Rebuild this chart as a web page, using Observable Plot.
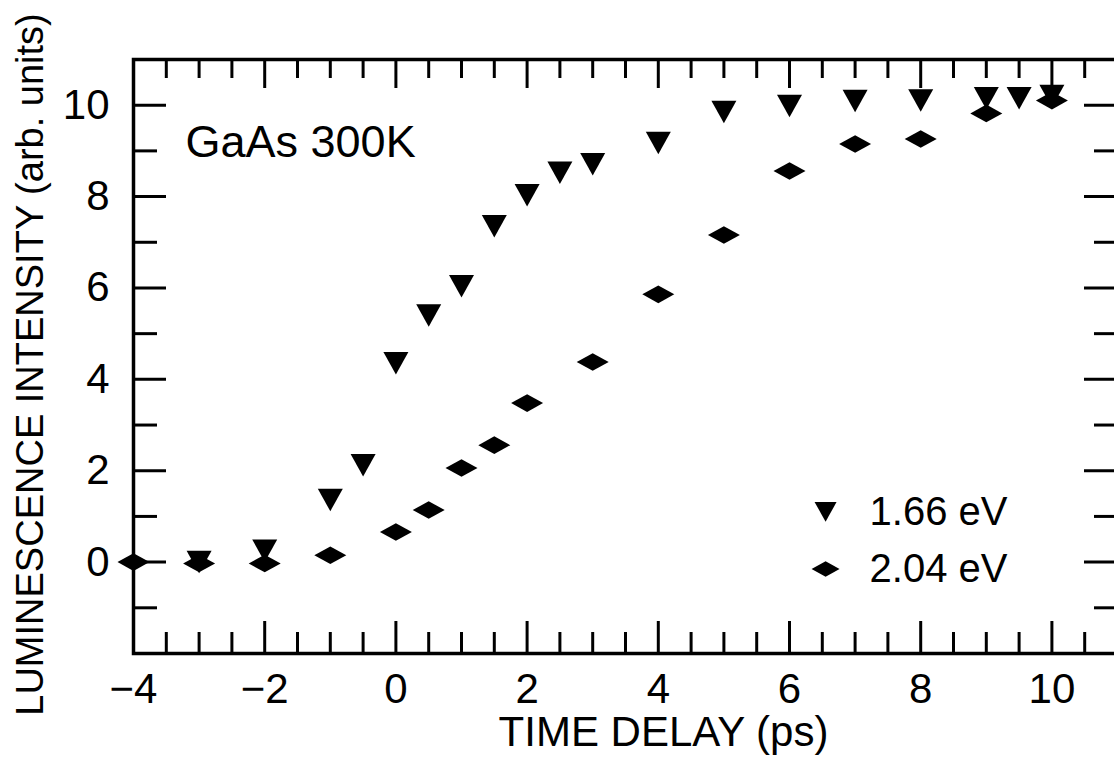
<!DOCTYPE html>
<html>
<head>
<meta charset="utf-8">
<script src="https://cdn.jsdelivr.net/npm/d3@7"></script>
<script src="https://cdn.jsdelivr.net/npm/@observablehq/plot@0.6"></script>
<style>
  html, body { margin: 0; padding: 0; background: #fff; }
  svg { display: block; }
</style>
</head>
<body>
<div id="chart"></div>
<script>
// ---- Data ----
const delay166 = [-3, -2, -1, -0.5, 0, 0.5, 1, 1.5, 2, 2.5, 3, 4, 5, 6, 7, 8, 9, 9.5, 10];
const lum166   = [0.0, 0.25, 1.36, 2.12, 4.35, 5.4, 6.04, 7.35, 8.03, 8.52, 8.71, 9.17, 9.85, 9.98, 10.09, 10.1, 10.15, 10.15, 10.2];

const delay204 = [-4, -3, -2, -1, 0, 0.5, 1, 1.5, 2, 3, 4, 5, 6, 7, 8, 9, 10];
const lum204   = [0.0, -0.03, -0.03, 0.15, 0.66, 1.14, 2.06, 2.56, 3.48, 4.38, 5.86, 7.16, 8.56, 9.15, 9.26, 9.82, 10.1];

const seriesNames = ["1.66 eV", "2.04 eV"];
const xTickLabels = [-4, -2, 0, 2, 4, 6, 8, 10];
const xMinorTicks = [-3.5, -3, -2.5, -1.5, -1, -0.5, 0.5, 1, 1.5, 2.5, 3, 3.5, 4.5, 5, 5.5, 6.5, 7, 7.5, 8.5, 9, 9.5, 10.5];
const xMajorTicks = [-2, 0, 2, 4, 6, 8, 10];
const yTickLabels = [0, 2, 4, 6, 8, 10];
const yMinorTicks = [-1, 1, 3, 5, 7, 9];
const yMajorTicks = [0, 2, 4, 6, 8, 10];

const xTitle = "TIME DELAY (ps)";
const yTitle = "LUMINESCENCE INTENSITY (arb. units)";
const annotation = "GaAs 300K";

// ---- Table for the library ----
const data166 = delay166.map((t, i) => ({t, v: lum166[i]}));
const data204 = delay204.map((t, i) => ({t, v: lum204[i]}));

// ---- Layout ----
const W = 1114, H = 761;
const mT = 59, mB = 108, mL = 133, mR = -3;
const plotW = W - mL - mR, plotH = H - mT - mB;
const FONT = "'Liberation Sans', Arial, Helvetica, sans-serif";

// custom marker shapes
const triDown = {
  draw(ctx, size) {
    const r = Math.sqrt(size / Math.PI);
    ctx.moveTo(-r, -0.9 * r);
    ctx.lineTo(r, -0.9 * r);
    ctx.lineTo(0, 0.9 * r);
    ctx.closePath();
  }
};
const flatDiamond = {
  draw(ctx, size) {
    const r = Math.sqrt(size / Math.PI);
    ctx.moveTo(-r, 0);
    ctx.lineTo(0, -0.55 * r);
    ctx.lineTo(r, 0);
    ctx.lineTo(0, 0.55 * r);
    ctx.closePath();
  }
};

const fmt = d => (d < 0 ? "\u2212" + (-d) : String(d));

// legend anchor (in data units)
const legendX = 6.55, legendTextX = 7.22;
const legendY = [1.1, -0.15];

const tickW = 3;

const chart = Plot.plot({
  width: W,
  height: H,
  marginTop: mT,
  marginBottom: mB,
  marginLeft: mL,
  marginRight: mR,
  style: {fontFamily: FONT, background: "#fff", color: "#000"},
  x: {domain: [-4, 11]},
  y: {domain: [-2, 11]},
  marks: [
    // inward ticks: bottom
    Plot.tickX(xMajorTicks, {x: d => d, insetTop: plotH - 32, stroke: "#000", strokeWidth: tickW}),
    Plot.tickX(xMinorTicks, {x: d => d, insetTop: plotH - 21, stroke: "#000", strokeWidth: tickW}),
    // top
    Plot.tickX(xMajorTicks, {x: d => d, insetBottom: plotH - 29, stroke: "#000", strokeWidth: tickW}),
    Plot.tickX(xMinorTicks, {x: d => d, insetBottom: plotH - 19, stroke: "#000", strokeWidth: tickW}),
    // left
    Plot.tickY(yMajorTicks, {y: d => d, insetRight: plotW - 33, stroke: "#000", strokeWidth: tickW}),
    Plot.tickY(yMinorTicks, {y: d => d, insetRight: plotW - 24, stroke: "#000", strokeWidth: tickW}),
    // right
    Plot.tickY(yMajorTicks, {y: d => d, insetLeft: plotW - 33, stroke: "#000", strokeWidth: tickW}),
    Plot.tickY(yMinorTicks, {y: d => d, insetLeft: plotW - 23, stroke: "#000", strokeWidth: tickW}),

    Plot.frame({stroke: "#000", strokeWidth: 3.5}),

    Plot.axisX(xTickLabels, {label: null, tickSize: 0, tickPadding: 20, tickFormat: fmt, fontSize: 42, fill: "#000"}),
    Plot.axisY(yTickLabels, {label: null, tickSize: 0, tickPadding: 24, tickFormat: fmt, fontSize: 42, fill: "#000"}),

    Plot.text([xTitle], {frameAnchor: "bottom", textAnchor: "middle", lineAnchor: "middle", dx: 38, dy: 79, fontSize: 42, fill: "#000"}),
    Plot.text([yTitle], {frameAnchor: "left", textAnchor: "middle", lineAnchor: "middle", rotate: -90, dx: -103, dy: 8, fontSize: 38, fill: "#000", fontWeight: 500}),
    Plot.text([annotation], {frameAnchor: "top-left", textAnchor: "start", lineAnchor: "middle", dx: 52, dy: 83, fontSize: 45, fill: "#000"}),

    // data
    Plot.dot(data204, {x: "t", y: "v", symbol: flatDiamond, r: 16, fill: "#000", stroke: "none"}),
    Plot.dot(data166, {x: "t", y: "v", symbol: triDown, r: 12.5, fill: "#000", stroke: "none"}),

    // legend
    Plot.dot([seriesNames[0]], {x: () => legendX, y: () => legendY[0], symbol: triDown, r: 11, fill: "#000", stroke: "none"}),
    Plot.dot([seriesNames[1]], {x: () => legendX, y: () => legendY[1], symbol: flatDiamond, r: 14, fill: "#000", stroke: "none"}),
    Plot.text(seriesNames, {x: () => legendTextX, y: (d, i) => legendY[i], text: d => d, textAnchor: "start", fontSize: 40, fill: "#000"})
  ]
});

document.getElementById("chart").appendChild(chart);
</script>
</body>
</html>
